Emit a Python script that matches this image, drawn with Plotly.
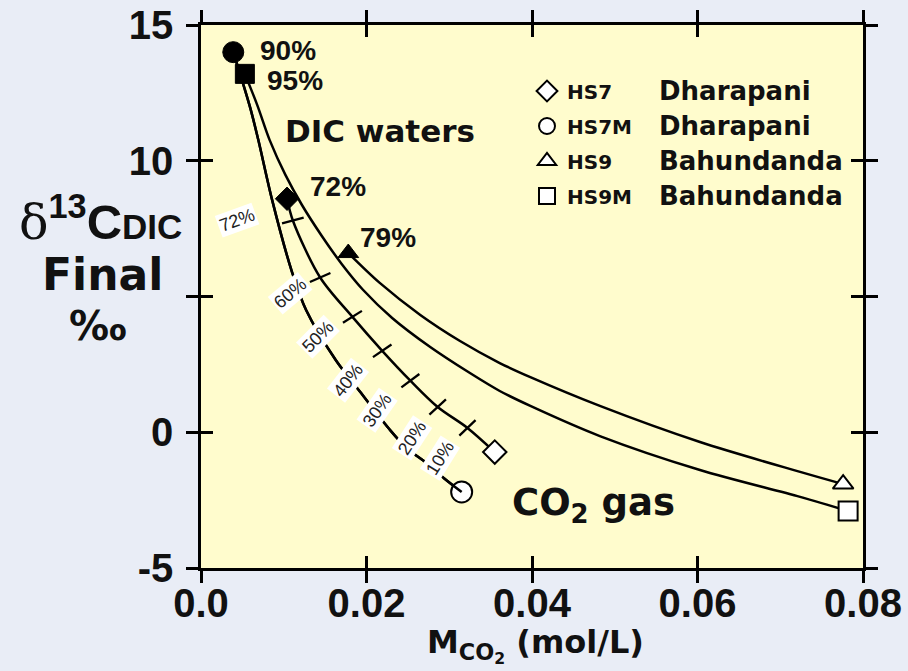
import math
import plotly.graph_objects as go

# ---------------- data ----------------
# HS7M (circle) degassing curve
hs7m_x = [0.0039, 0.0059, 0.0069, 0.0086, 0.0110, 0.0127, 0.0163, 0.0192, 0.0228, 0.0249, 0.0271, 0.0294, 0.0315]
hs7m_y = [14.0, 12.0, 10.8, 8.55, 5.9, 4.5, 2.65, 1.5, 0.1, -0.6, -1.1, -1.7, -2.2]
# HS7 (diamond) degassing curve (interior points carry the % ticks)
hs7_x = [0.0104, 0.0111, 0.0144, 0.0183, 0.0219, 0.0253, 0.0286, 0.0322, 0.0355]
hs7_y = [8.6, 7.8, 5.7, 4.25, 3.0, 1.9, 0.93, 0.16, -0.73]
# HS9M (square) degassing curve
hs9m_x = [0.0053, 0.0068, 0.0083, 0.0102, 0.0122, 0.0146, 0.0170, 0.0196, 0.0231, 0.0277,
          0.0325, 0.0361, 0.0398, 0.0482, 0.0603, 0.0724, 0.0782]
hs9m_y = [13.2, 12.05, 10.76, 9.48, 8.37, 7.23, 6.20, 5.24, 4.21, 3.14,
          2.18, 1.52, 0.97, -0.14, -1.39, -2.38, -2.9]
# HS9 (triangle) degassing curve
hs9_x = [0.0178, 0.0216, 0.0265, 0.0313, 0.0361, 0.0398, 0.0482, 0.0603, 0.0724, 0.0776]
hs9_y = [6.6, 5.50, 4.32, 3.36, 2.55, 2.03, 0.97, -0.36, -1.46, -1.91]

samples = ["HS7", "HS7M", "HS9", "HS9M"]
sites = ["Dharapani", "Dharapani", "Bahundanda", "Bahundanda"]
start_pct = ["72%", "90%", "79%", "95%"]

# degassing-percentage labels on the HS7M curve (for the HS7 ticks)
pct_text = ["72%", "60%", "50%", "40%", "30%", "20%", "10%"]
pct_x = [0.0044, 0.0108, 0.0141, 0.0178, 0.0213, 0.0255, 0.0289]
pct_y = [7.82, 5.13, 3.51, 1.92, 0.82, -0.21, -0.95]
pct_angle = [-20, -40, -45, -52, -55, -57, -58]

x_ticks = [0, 0.02, 0.04, 0.06, 0.08]
x_ticktext = ["0.0", "0.02", "0.04", "0.06", "0.08"]
y_ticks = [-5, 0, 5, 10, 15]
y_ticktext = ["-5", "0", "", "10", "15"]

# ---------------- layout geometry ----------------
W, H = 908, 671
ML, MR, MT, MB = 201, 45, 25, 103
XR = [0, 0.08]
YR = [-5, 15]
pw, ph = W - ML - MR, H - MT - MB
sx = pw / (XR[1] - XR[0])
sy = ph / (YR[1] - YR[0])


def px_x(p):
    return (p - ML) / pw


def px_y(p):
    return (H - MB - p) / ph


BG = "#E9EDF6"
PLOT_BG = "#FFFCCD"
LW = 2.5
ARIAL = "Liberation Sans, Arial, sans-serif"
DEJ = "DejaVu Sans, sans-serif"

curves = {
    "HS7": (hs7_x, hs7_y, "diamond", 18),
    "HS7M": (hs7m_x, hs7m_y, "circle", 21),
    "HS9": (hs9_x, hs9_y, "triangle-up", 18),
    "HS9M": (hs9m_x, hs9m_y, "square", 19),
}

fig = go.Figure()

# curves
for name in ["HS7M", "HS7", "HS9M", "HS9"]:
    xs, ys, sym, sz = curves[name]
    fig.add_trace(go.Scatter(x=xs, y=ys, mode="lines", showlegend=False,
                             line=dict(color="black", width=LW, shape="spline", smoothing=0.9),
                             hoverinfo="skip"))

# tick marks across the HS7 curve, perpendicular to it
tx, ty, tang = [], [], []
for k in range(1, len(hs7_x) - 1):
    dxp = (hs7_x[k + 1] - hs7_x[k - 1]) * sx
    dyp = -(hs7_y[k + 1] - hs7_y[k - 1]) * sy
    theta = math.degrees(math.atan2(dyp, dxp))
    tx.append(hs7_x[k]); ty.append(hs7_y[k]); tang.append(theta - 90 + 8)
fig.add_trace(go.Scatter(x=tx, y=ty, mode="markers", showlegend=False, hoverinfo="skip",
                         marker=dict(symbol="line-ew", size=16, angle=tang,
                                     line=dict(color="black", width=2.3))))

# start (filled) markers
for name in samples:
    xs, ys, sym, sz = curves[name]
    fig.add_trace(go.Scatter(x=[xs[0]], y=[ys[0]], mode="markers", showlegend=False,
                             marker=dict(symbol=sym, size=sz, color="black",
                                         line=dict(color="black", width=1))))

# end (open) markers -> legend entries
for i, name in enumerate(samples):
    xs, ys, sym, sz = curves[name]
    fig.add_trace(go.Scatter(x=[xs[-1]], y=[ys[-1]], mode="markers", name=name,
                             legendgroup=name,
                             marker=dict(symbol=sym, size=sz, color="white",
                                         line=dict(color="black", width=2))))

# overlay axes (inner halves of the crossing ticks) carry a copy of the HS7M curve
fig.add_trace(go.Scatter(x=hs7m_x, y=hs7m_y, mode="lines", showlegend=False, hoverinfo="skip",
                         xaxis="x2", yaxis="y2",
                         line=dict(color="black", width=LW, shape="spline", smoothing=0.9)))

ann = []
# start percentage labels
shifts = {"HS7": (21, 12), "HS7M": (25, 2), "HS9": (10, 16), "HS9M": (20, -7)}
for i, name in enumerate(samples):
    xs, ys, sym, sz = curves[name]
    dx, dy = shifts[name]
    ann.append(dict(x=xs[0], y=ys[0], text=start_pct[i], showarrow=False, xanchor="left",
                    yanchor="middle", xshift=dx, yshift=dy,
                    font=dict(family=ARIAL, size=28, color="#111", weight="bold")))

# percentage labels along the curves
for t, x, y, a in zip(pct_text, pct_x, pct_y, pct_angle):
    ann.append(dict(x=x, y=y, text=t, showarrow=False, textangle=a, bgcolor="white",
                    borderpad=1, font=dict(family=ARIAL, size=18, color="#222")))

ann.append(dict(x=0.0216, y=11.1, text="DIC waters", showarrow=False,
                font=dict(family=DEJ, size=31, color="#111", weight="bold")))
ann.append(dict(x=0.0474, y=-2.68, text="CO<sub>2</sub> gas", showarrow=False,
                font=dict(family=DEJ, size=37, color="#111", weight="bold")))

# site names next to the legend rows
row0, step = 91, 35
for i, s in enumerate(sites):
    ann.append(dict(xref="paper", yref="paper", x=px_x(657), y=px_y(row0 + i * step),
                    text=s, showarrow=False, xanchor="left", yanchor="middle",
                    font=dict(family=DEJ, size=26, color="#111", weight="bold")))

# y-axis title (horizontal, three lines)
ann.append(dict(xref="paper", yref="paper", x=px_x(100), y=px_y(219),
                text="<span style='font-family:DejaVu Serif;font-weight:normal'>δ</span>"
                     "<sup>13</sup>C<span style='font-size:35px'>DIC</span>",
                showarrow=False, xanchor="center", yanchor="middle",
                font=dict(family=ARIAL, size=49, color="#111", weight="bold")))
ann.append(dict(xref="paper", yref="paper", x=px_x(102), y=px_y(274),
                text="Final", showarrow=False, xanchor="center", yanchor="middle",
                font=dict(family=DEJ, size=44, color="#111", weight="bold")))
ann.append(dict(xref="paper", yref="paper", x=px_x(98), y=px_y(326),
                text="‰", showarrow=False, xanchor="center", yanchor="middle",
                font=dict(family=DEJ, size=40, color="#111", weight="bold")))

# x-axis title
ann.append(dict(xref="paper", yref="paper", x=px_x(535), y=px_y(645),
                text="M<sub>CO<sub>2</sub></sub> (mol/L)", showarrow=False,
                xanchor="center", yanchor="middle",
                font=dict(family=DEJ, size=32, color="#111", weight="bold")))

axis_common = dict(showgrid=False, zeroline=False, ticklen=12, tickwidth=LW, tickcolor="black")

fig.update_layout(
    width=W, height=H,
    margin=dict(l=ML, r=MR, t=MT, b=MB, autoexpand=False),
    paper_bgcolor=BG, plot_bgcolor=PLOT_BG,
    annotations=ann,
    showlegend=True,
    legend=dict(x=px_x(527), y=px_y(71.5), xanchor="left", yanchor="top",
                bgcolor="rgba(0,0,0,0)", borderwidth=0, tracegroupgap=6,
                font=dict(family=DEJ, size=20, color="#111", weight="bold")),
    xaxis=dict(range=XR, tickvals=x_ticks, ticktext=x_ticktext, ticks="outside",
               showline=True, linecolor="black", linewidth=LW, mirror="ticks",
               tickfont=dict(family=ARIAL, size=40, color="#111", weight="bold"),
               ticklabelstandoff=-14, **axis_common),
    yaxis=dict(range=YR, tickvals=y_ticks, ticktext=y_ticktext, ticks="outside",
               showline=True, linecolor="black", linewidth=LW, mirror="ticks",
               tickfont=dict(family=ARIAL, size=40, color="#111", weight="bold"),
               ticklabelstandoff=5, **axis_common),
    xaxis2=dict(range=XR, tickvals=x_ticks, ticks="inside", overlaying="x", anchor="y2",
                showticklabels=False, showline=False, mirror="ticks", **axis_common),
    yaxis2=dict(range=YR, tickvals=y_ticks, ticks="inside", overlaying="y", anchor="x2",
                showticklabels=False, showline=False, mirror="ticks", **axis_common),
)

fig.write_html("out.html")
